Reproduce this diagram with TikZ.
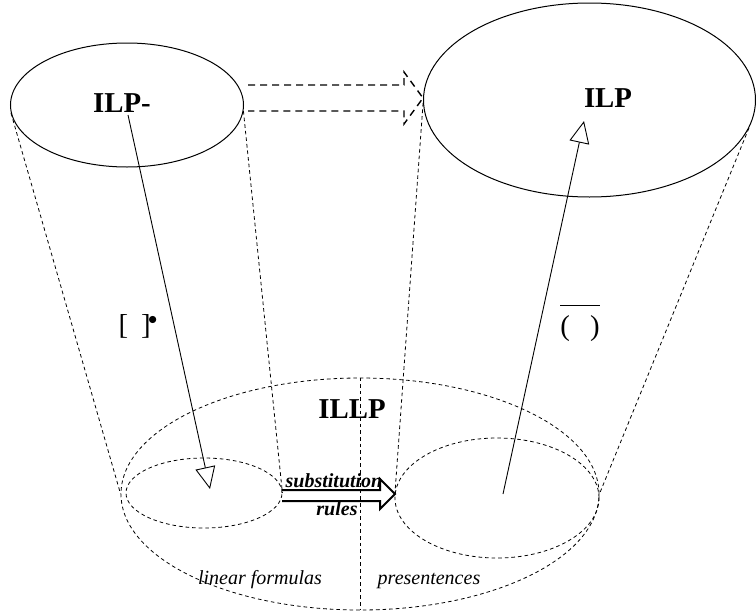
\documentclass[tikz,border=0pt]{standalone}
\usepackage{fontspec}
\setmainfont{Liberation Serif}
\usetikzlibrary{shapes.geometric,arrows.meta}

\tikzset{
  setshape/.style={draw, ellipse, inner sep=0pt, line width=0.5pt},
  subset/.style={draw, ellipse, inner sep=0pt, line width=0.4pt, dash pattern=on 1.8pt off 1.5pt},
  cone/.style={line width=0.4pt, dash pattern=on 1.8pt off 1.5pt},
  lift/.style={line width=0.7pt, dash pattern=on 3.5pt off 2.5pt},
  rewrite/.style={line width=1pt, miter limit=20},
  maps/.style={line width=0.45pt, -{Triangle[open, length=11pt, width=10pt]}},
  setlabel/.style={font=\fontsize{14.4}{17}\selectfont\bfseries, anchor=base, inner sep=0pt},
  oplabel/.style={font=\fontsize{14.4}{17}\selectfont, anchor=base, inner sep=0pt},
  regionlabel/.style={font=\fontsize{10}{12}\selectfont\itshape, anchor=base, inner sep=0pt},
  rulelabel/.style={font=\fontsize{10}{12}\selectfont\bfseries\itshape, anchor=base, inner sep=0pt},
}

\begin{document}
\begin{tikzpicture}[x=0.5pt, y=-0.5pt]
  \useasboundingbox (0,0) rectangle (756,616);
  % Drawing the two logics on top
  \node[setshape, minimum width=116.5pt, minimum height=62pt] (ilpm) at (127,105) {};
  \node[setshape, minimum width=166pt, minimum height=97pt] (ilp) at (589.5,100) {};
  % Drawing ILLP and its two parts
  \node[subset, minimum width=239pt, minimum height=116pt] (illp) at (360,494) {};
  \node[subset, minimum width=78pt, minimum height=35pt] (lin) at (204,493) {};
  \node[subset, minimum width=102pt, minimum height=60pt] (pres) at (497,498) {};
  \draw[cone] (illp.north) -- (illp.south);
  % Drawing cones
  \draw[cone] (ilpm.184) -- (illp.west);
  \draw[cone] (ilpm.357) -- (lin.east);
  \draw[cone] (ilp.181) -- (pres.west);
  \draw[cone] (ilp.350) -- (illp.east);
  % Labels
  \node[setlabel] (ilpmtext) at (122,112) {ILP-};
  \node[setlabel] (ilptext) at (608,107) {ILP};
  \node[setlabel] (illptext) at (352,418) {ILLP};
  \node[regionlabel] (lintext) at (260,584) {linear formulas};
  \node[regionlabel] (prestext) at (429,584) {presentences};
  \node[rulelabel] (substtext) at (334,487) {substitution};
  \node[rulelabel] (rulestext) at (337,515) {rules};
  \node[oplabel] (embed) at (138,334) {[\hspace{0.45em}]\kern-1.2pt\raisebox{5pt}{\fontsize{9}{9}\selectfont$\bullet$}};
  \node[oplabel] (closure) at (580,335) {$\overline{\rule{0pt}{13.5pt}\mbox{(\hspace{0.7em})}}$};
  % Drawing arrows
  \draw[lift] (248,85) -- (404,85) -- (404,72) -- (423,98) -- (404,124) -- (404,111) -- (248,111);
  \draw[rewrite] (282,490) -- (380,490) -- (380,479) -- (395,494) -- (380,509) -- (380,501) -- (282,501);
  \coordinate (embedfrom) at (128,115);
  \coordinate (embedto) at (210,489);
  \draw[maps] (embedfrom) -- (embedto);
  \coordinate (closurefrom) at (503,494);
  \coordinate (closureto) at (584,121);
  \draw[maps] (closurefrom) -- (closureto);
\end{tikzpicture}
\end{document}
